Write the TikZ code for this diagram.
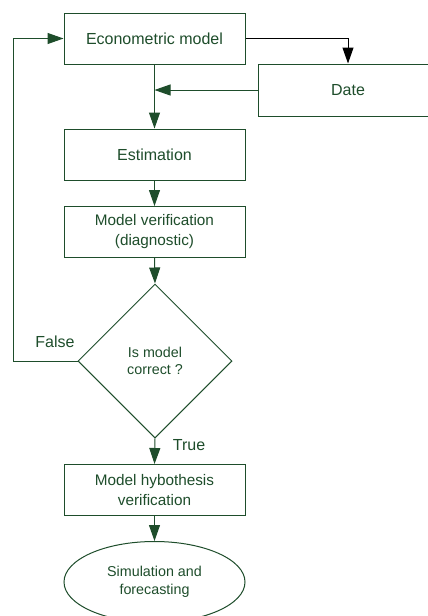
\documentclass[tikz,border=0pt]{standalone}
\usepackage{fontspec}
\setmainfont{Liberation Sans}
\usepackage{tikz}
\usetikzlibrary{arrows.meta}
\usetikzlibrary{shapes.geometric}
\usetikzlibrary{calc}

\definecolor{dkgreen}{HTML}{1E4D2B}

\begin{document}
\begin{tikzpicture}[x=1pt,y=-1pt,
	>/.tip={Triangle[length=16pt,width=11pt]},
	line width=1pt,draw=dkgreen,
	box/.style={draw=dkgreen,text=dkgreen,fill=white,shape=rectangle,minimum width=181pt,minimum height=51pt,align=center,font=\fontsize{16}{20}\selectfont},
	twoline/.style={box,font=\fontsize{15.3}{20}\selectfont},
	small/.style={text=dkgreen,align=center,font=\fontsize{14.3}{17.5}\selectfont}]
	\useasboundingbox (0,0) rectangle (428,616);

	\draw (154.5,38.5) node (model) [box] {Econometric model};
	\draw (348,90) node (date) [box,minimum width=180pt,minimum height=52pt] {Date};
	\draw (154.5,154.5) node (estim) [box] {Estimation};
	\draw (154.5,232) node (verif) [twoline] {Model verification\\(diagnostic)};
	\draw (155,361) node (check) [small,draw=dkgreen,shape=diamond,inner sep=0pt,minimum width=154pt,minimum height=154pt] {Is model\\correct ?};
	\draw (154.5,490) node (hypo) [twoline] {Model hybothesis\\verification};
	\draw (154.5,582) node (sim) [small,draw=dkgreen,shape=ellipse,inner sep=0pt,minimum width=181pt,minimum height=81pt] {Simulation and\\forecasting};

	\coordinate (join) at (154.5,90);
	\coordinate (back) at (13,38.5);
	\node (false) [small,font=\fontsize{16}{20}\selectfont] at (55,342) {False};
	\node (true) [small,font=\fontsize{16}{20}\selectfont] at (189,445) {True};

	\draw[->,draw=black] (model.east) -| (date.north);
	\draw[->,draw=dkgreen] (model.south) -- (estim.north);
	\draw[->,draw=dkgreen] (date.west) -- (join);
	\draw[->,draw=dkgreen] (estim.south) -- (verif.north);
	\draw[->,draw=dkgreen] (verif.south) -- (check.north);
	\draw[->,draw=dkgreen] (check.west) -| (back) -- (model.west);
	\draw[->,draw=dkgreen] (check.south) -- (hypo.north);
	\draw[->,draw=dkgreen] (hypo.south) -- (sim.north);
\end{tikzpicture}
\end{document}
